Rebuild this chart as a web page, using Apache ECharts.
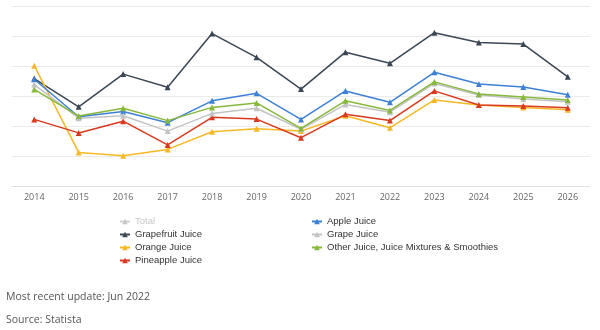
<!DOCTYPE html>
<html>
<head>
<meta charset="utf-8">
<script src="https://cdn.jsdelivr.net/npm/echarts@6/dist/echarts.min.js"></script>
<style>
  html, body { margin: 0; padding: 0; background: #fff; }
  #chart { width: 600px; height: 330px; }
</style>
</head>
<body>
<div id="chart"></div>
<script>
// 年份
const years = ['2014', '2015', '2016', '2017', '2018', '2019', '2020', '2021', '2022', '2023', '2024', '2025', '2026']

// 各系列数值（纵轴无刻度标签，按图中位置估读）
const total = []
const grapefruit = [35.8, 26.4, 37.3, 32.9, 50.8, 42.9, 32.3, 44.6, 40.9, 51.1, 47.8, 47.3, 36.4]
const orange = [40.1, 11.2, 10.1, 12.2, 18.1, 19.1, 18.3, 23.4, 19.4, 28.7, 27.0, 26.2, 25.4]
const pineapple = [22.2, 17.7, 21.6, 13.7, 22.9, 22.3, 16.1, 23.9, 21.8, 31.7, 27.0, 26.7, 26.1]
const apple = [35.6, 23.1, 24.8, 21.1, 28.4, 30.9, 22.2, 31.7, 27.9, 37.9, 34.0, 33.0, 30.4]
const grape = [33.8, 22.6, 23.4, 18.3, 24.2, 25.9, 18.9, 27.2, 24.6, 34.2, 30.3, 29.0, 28.1]
const other = [32.2, 23.3, 25.9, 21.8, 26.2, 27.7, 19.2, 28.4, 25.2, 34.7, 30.7, 29.7, 28.7]

const chart = echarts.init(document.getElementById('chart'))

const makeSeries = (name, data, color) => ({
  name,
  type: 'line',
  data,
  symbol: 'triangle',
  symbolSize: 6,
  lineStyle: { color, width: 1.5 },
  itemStyle: { color }
})

const legendText = { fontSize: 9.5, lineHeight: 11, color: '#333', fontFamily: 'Liberation Sans' }

const option = {
  animation: false,
  grid: { left: 12, right: 10, top: 6, bottom: 144 },
  legend: [
    {
      orient: 'vertical',
      left: 119,
      top: 216,
      padding: 0,
      itemWidth: 10,
      itemHeight: 7,
      itemGap: 2,
      textStyle: legendText,
      inactiveColor: '#c8c8c8',
      selected: { 'Total': false },
      data: ['Total', 'Grapefruit Juice', 'Orange Juice', 'Pineapple Juice']
    },
    {
      orient: 'vertical',
      left: 311,
      top: 216,
      padding: 0,
      itemWidth: 10,
      itemHeight: 7,
      itemGap: 2,
      textStyle: legendText,
      data: ['Apple Juice', 'Grape Juice', 'Other Juice, Juice Mixtures & Smoothies']
    }
  ],
  xAxis: {
    type: 'category',
    data: years,
    boundaryGap: true,
    axisLine: { lineStyle: { color: '#e0e0e0', width: 1 } },
    axisTick: { show: false },
    axisLabel: { color: '#666', fontSize: 9, fontFamily: 'Open Sans', margin: 7 }
  },
  yAxis: {
    type: 'value',
    min: 0,
    max: 60,
    interval: 10,
    axisLabel: { show: false },
    axisLine: { show: false },
    axisTick: { show: false },
    splitLine: { lineStyle: { color: '#ebebeb' } }
  },
  series: [
    makeSeries('Total', total, '#c8c8c8'),
    makeSeries('Grapefruit Juice', grapefruit, '#3b4754'),
    makeSeries('Orange Juice', orange, '#f6b925'),
    makeSeries('Pineapple Juice', pineapple, '#d9391e'),
    makeSeries('Apple Juice', apple, '#3d80d6'),
    makeSeries('Grape Juice', grape, '#c3c3c3'),
    makeSeries('Other Juice, Juice Mixtures & Smoothies', other, '#86b83c')
  ],
  graphic: [
    {
      type: 'text',
      left: 6,
      top: 292,
      style: { text: 'Most recent update: Jun 2022', fontSize: 10.5, fill: '#555', fontFamily: 'Open Sans' }
    },
    {
      type: 'text',
      left: 6,
      top: 315,
      style: { text: 'Source: Statista', fontSize: 10.5, fill: '#555', fontFamily: 'Open Sans' }
    }
  ]
}

chart.setOption(option)
</script>
</body>
</html>
